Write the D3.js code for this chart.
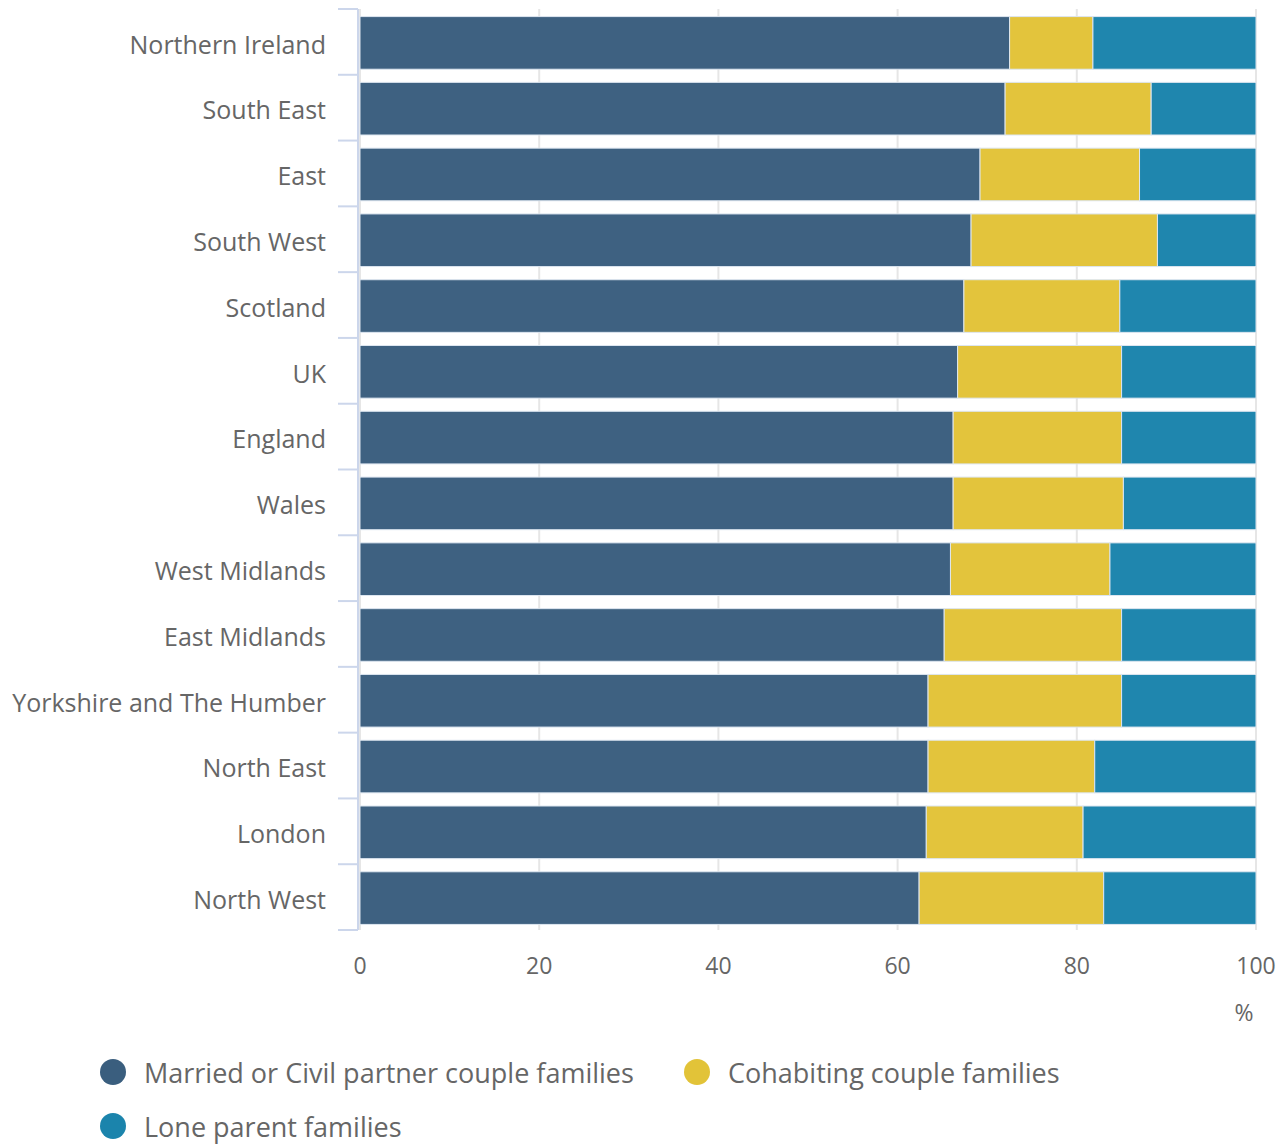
<!DOCTYPE html>
<html>
<head>
<meta charset="utf-8">
<script src="https://cdn.jsdelivr.net/npm/d3@7"></script>
<style>
  html, body { margin: 0; padding: 0; background: #fff; }
  svg { display: block; font-family: "Open Sans", sans-serif; }
</style>
</head>
<body>
<svg id="chart" width="1285" height="1144"></svg>
<script>
(function () {
    'use strict';

    // ── Data ──────────────────────────────────────────────
    const regions = [
        'Northern Ireland', 'South East', 'East', 'South West', 'Scotland', 'UK',
        'England', 'Wales', 'West Midlands', 'East Midlands',
        'Yorkshire and The Humber', 'North East', 'London', 'North West'
    ];
    const married    = [72.5, 72.0, 69.2, 68.2, 67.4, 66.7, 66.2, 66.2, 65.9, 65.2, 63.4, 63.4, 63.2, 62.4];
    const cohabiting = [9.3, 16.3, 17.8, 20.8, 17.4, 18.3, 18.8, 19.0, 17.8, 19.8, 21.6, 18.6, 17.5, 20.6];
    const lone       = [18.2, 11.7, 13.0, 11.0, 15.2, 15.0, 15.0, 14.8, 16.3, 15.0, 15.0, 18.0, 19.3, 17.0];
    const seriesNames = ['Married or Civil partner couple families', 'Cohabiting couple families', 'Lone parent families'];
    const seriesColors = ['#3a5e7e', '#e2c338', '#1b84ac'];
    const xTicks = [0, 20, 40, 60, 80, 100];

    const M = { left: 358, right: 1256, top: 9, bottom: 930 };

    const svg = d3.select('#chart');

    const x = d3.scaleLinear().domain([0, 100]).range([M.left + 2, M.right]);
    const y = d3.scaleBand().domain(regions).range([M.top, M.bottom]).paddingInner(0.2).paddingOuter(0.1);

    // ── Grid ──────────────────────────────────────────────
    svg.append('g')
        .selectAll('line')
        .data(xTicks)
        .join('line')
        .attr('x1', d => x(d)).attr('x2', d => x(d))
        .attr('y1', M.top).attr('y2', M.bottom)
        .attr('stroke', '#e6e6e6')
        .attr('stroke-width', 2);

    // ── Stacked bars ──────────────────────────────────────
    const rows = regions.map((r, i) => ({ region: r, s0: married[i], s1: cohabiting[i], s2: lone[i] }));
    const stack = d3.stack().keys(['s0', 's1', 's2'])(rows);

    svg.append('g')
        .selectAll('g')
        .data(stack)
        .join('g')
        .attr('fill', (d, i) => seriesColors[i])
        .selectAll('rect')
        .data(d => d)
        .join('rect')
        .attr('x', d => x(d[0]))
        .attr('y', d => y(d.data.region) + 1)
        .attr('width', d => x(d[1]) - x(d[0]))
        .attr('height', y.bandwidth())
        .attr('fill-opacity', 0.98)
        .attr('stroke', '#dde6f0')
        .attr('stroke-width', 1);

    // ── Y axis ────────────────────────────────────────────
    const step = y.step();
    const bounds = d3.range(regions.length + 1).map(i => M.top + i * step);

    svg.append('line')
        .attr('x1', M.left).attr('x2', M.left)
        .attr('y1', M.top).attr('y2', M.bottom)
        .attr('stroke', '#ccd6eb').attr('stroke-width', 2);

    svg.append('g')
        .selectAll('line')
        .data(bounds)
        .join('line')
        .attr('x1', M.left - 20).attr('x2', M.left)
        .attr('y1', d => d).attr('y2', d => d)
        .attr('stroke', '#ccd6eb').attr('stroke-width', 2);

    svg.append('g')
        .selectAll('text')
        .data(regions)
        .join('text')
        .attr('x', 326)
        .attr('y', d => y(d) + y.bandwidth() / 2 + 3)
        .attr('dy', '0.35em')
        .attr('text-anchor', 'end')
        .attr('font-size', '25px')
        .attr('fill', '#666666')
        .text(d => d);

    // ── X axis labels ─────────────────────────────────────
    svg.append('g')
        .selectAll('text')
        .data(xTicks)
        .join('text')
        .attr('x', d => x(d))
        .attr('y', 974)
        .attr('text-anchor', 'middle')
        .attr('font-size', '23px')
        .attr('fill', '#666666')
        .text(d => d);

    svg.append('text')
        .attr('x', 1244).attr('y', 1021)
        .attr('text-anchor', 'middle')
        .attr('font-size', '23px')
        .attr('fill', '#666666')
        .text('%');

    // ── Legend ────────────────────────────────────────────
    const legendPos = [[113, 1072], [697, 1072], [113, 1126]];
    const legend = svg.append('g')
        .selectAll('g')
        .data(seriesNames)
        .join('g')
        .attr('transform', (d, i) => `translate(${legendPos[i][0]},${legendPos[i][1]})`);

    legend.append('circle')
        .attr('r', 13)
        .attr('fill', (d, i) => seriesColors[i]);

    legend.append('text')
        .attr('x', 31)
        .attr('y', 2)
        .attr('dy', '0.35em')
        .attr('font-size', '27px')
        .attr('fill', '#666666')
        .text(d => d);
})();
</script>
</body>
</html>
